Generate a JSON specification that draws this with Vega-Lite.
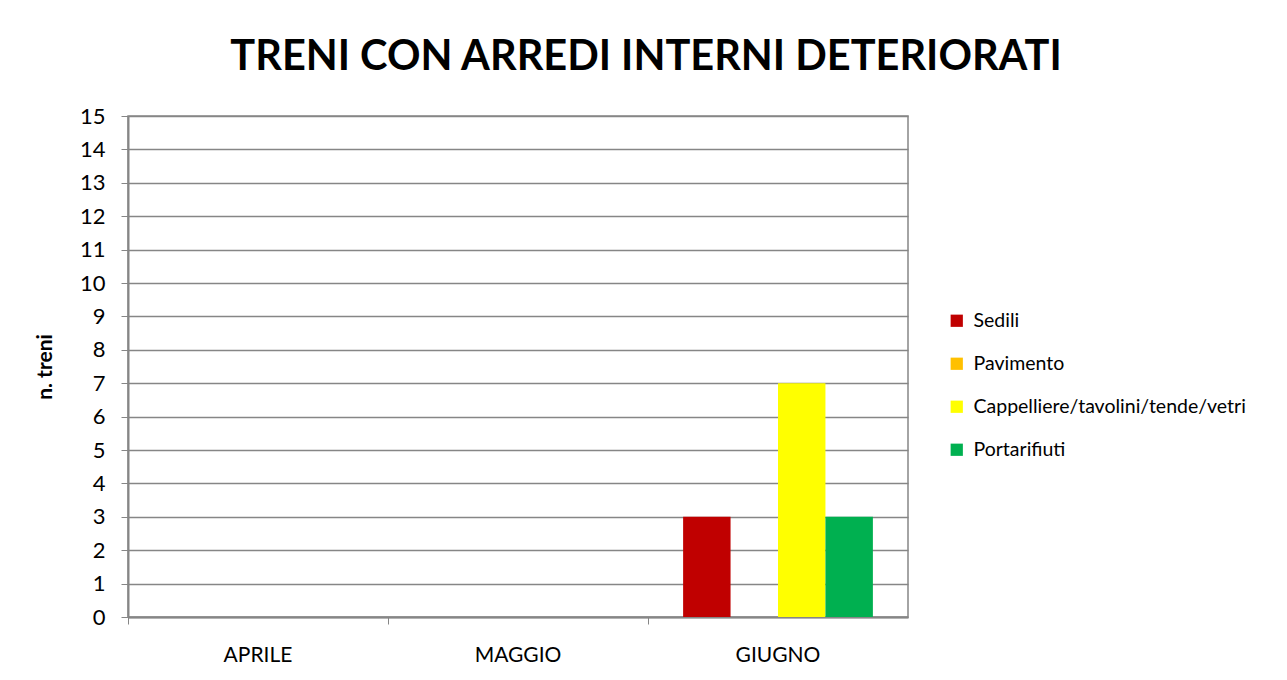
{
  "$schema": "https://vega.github.io/schema/vega-lite/v6.json",
  "width": 780,
  "height": 501,
  "autosize": {"type": "none"},
  "padding": {"left": 128, "top": 116, "right": 379, "bottom": 63},
  "background": "white",
  "title": {
    "text": "TRENI CON ARREDI INTERNI DETERIORATI",
    "font": "Lato",
    "fontSize": 41.5,
    "fontWeight": "bold",
    "color": "#000000",
    "anchor": "middle",
    "dx": 128,
    "offset": 27
  },
  "data": {
    "values": [
      {"mese": "APRILE", "voce": "Sedili", "n": 0},
      {"mese": "APRILE", "voce": "Pavimento", "n": 0},
      {"mese": "APRILE", "voce": "Cappelliere/tavolini/tende/vetri", "n": 0},
      {"mese": "APRILE", "voce": "Portarifiuti", "n": 0},
      {"mese": "MAGGIO", "voce": "Sedili", "n": 0},
      {"mese": "MAGGIO", "voce": "Pavimento", "n": 0},
      {"mese": "MAGGIO", "voce": "Cappelliere/tavolini/tende/vetri", "n": 0},
      {"mese": "MAGGIO", "voce": "Portarifiuti", "n": 0},
      {"mese": "GIUGNO", "voce": "Sedili", "n": 3},
      {"mese": "GIUGNO", "voce": "Pavimento", "n": 0},
      {"mese": "GIUGNO", "voce": "Cappelliere/tavolini/tende/vetri", "n": 7},
      {"mese": "GIUGNO", "voce": "Portarifiuti", "n": 3}
    ]
  },
  "mark": {"type": "bar"},
  "encoding": {
    "x": {
      "field": "mese",
      "type": "nominal",
      "sort": ["APRILE", "MAGGIO", "GIUGNO"],
      "scale": {"paddingInner": 0, "paddingOuter": 0},
      "axis": {
        "title": null,
        "labelAngle": 0,
        "labelFont": "Lato",
        "labelFontSize": 21,
        "labelColor": "#000000",
        "labelPadding": 20,
        "bandPosition": 0,
        "tickSize": 7,
        "tickColor": "#868686",
        "domainColor": "#868686",
        "domainWidth": 2,
        "grid": false
      }
    },
    "xOffset": {
      "field": "voce",
      "type": "nominal",
      "sort": ["Sedili", "Pavimento", "Cappelliere/tavolini/tende/vetri", "Portarifiuti"],
      "scale": {"paddingInner": 0, "paddingOuter": 0.74}
    },
    "y": {
      "field": "n",
      "type": "quantitative",
      "scale": {"domain": [0, 15], "nice": false},
      "axis": {
        "title": "n. treni",
        "titleFont": "Lato",
        "titleFontSize": 21,
        "titleFontWeight": "bold",
        "titleColor": "#000000",
        "titlePadding": 24,
        "values": [0, 1, 2, 3, 4, 5, 6, 7, 8, 9, 10, 11, 12, 13, 14, 15],
        "labelFont": "Lato",
        "labelFontSize": 22,
        "labelColor": "#000000",
        "labelPadding": 16,
        "tickSize": 7,
        "tickColor": "#868686",
        "domainColor": "#868686",
        "domainWidth": 2,
        "grid": true,
        "gridColor": "#868686",
        "gridWidth": 1.5
      }
    },
    "color": {
      "field": "voce",
      "type": "nominal",
      "sort": ["Sedili", "Pavimento", "Cappelliere/tavolini/tende/vetri", "Portarifiuti"],
      "scale": {
        "domain": ["Sedili", "Pavimento", "Cappelliere/tavolini/tende/vetri", "Portarifiuti"],
        "range": ["#C00000", "#FFC000", "#FFFF00", "#00B050"]
      },
      "legend": {
        "title": null,
        "orient": "none",
        "legendX": 819,
        "legendY": 195,
        "symbolType": "square",
        "symbolSize": 150,
        "symbolStrokeWidth": 0,
        "labelFont": "Lato",
        "labelFontSize": 19.5,
        "labelColor": "#000000",
        "labelLimit": 400,
        "rowPadding": 22,
        "labelOffset": 7,
        "padding": 0
      }
    }
  },
  "config": {
    "view": {"stroke": "#868686", "strokeWidth": 1.5}
  }
}
